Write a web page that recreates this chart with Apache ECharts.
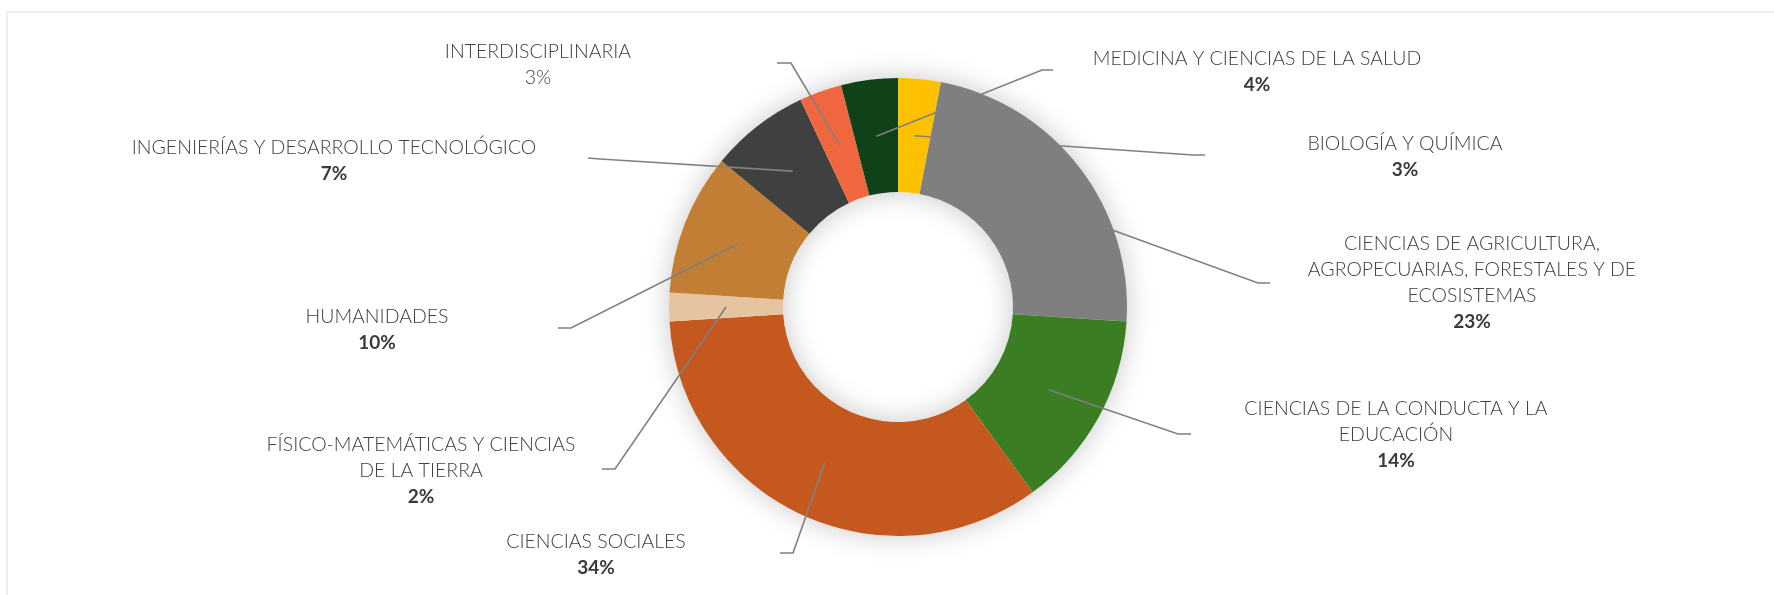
<!DOCTYPE html>
<html>
<head>
<meta charset="utf-8">
<script src="https://cdn.jsdelivr.net/npm/echarts@6/dist/echarts.min.js"></script>
<style>
  html, body { margin: 0; padding: 0; background: #fff; }
  #chart { width: 1774px; height: 595px; }
</style>
</head>
<body>
<div id="chart"></div>
<script>
// data, clockwise from 12 o'clock
const categories = [
  'BIOLOGÍA Y QUÍMICA',
  'CIENCIAS DE AGRICULTURA,\nAGROPECUARIAS, FORESTALES Y DE\nECOSISTEMAS',
  'CIENCIAS DE LA CONDUCTA Y LA\nEDUCACIÓN',
  'CIENCIAS SOCIALES',
  'FÍSICO-MATEMÁTICAS Y CIENCIAS\nDE LA TIERRA',
  'HUMANIDADES',
  'INGENIERÍAS Y DESARROLLO TECNOLÓGICO',
  'INTERDISCIPLINARIA',
  'MEDICINA Y CIENCIAS DE LA SALUD'
]
const values = [3, 23, 14, 34, 2, 10, 7, 3, 4]

const colors = ['#ffc000', '#7f7f7f', '#3b7d23', '#c4581f', '#e7c4a0', '#c17e34', '#404040', '#f0663f', '#0f4219']

// label block centre + leader elbow/end (pixels)
const labelSpots = [
  [1405, 157, 1193, 155, 1205, 155],
  [1472, 283, 1258, 283, 1270, 283],
  [1396, 435, 1178, 434, 1191, 434],
  [596, 555, 793, 553, 780, 553],
  [421, 471, 615, 469, 602, 469],
  [377, 330, 571, 328, 558, 328],
  [334, 161, 600, 159, 588, 158],
  [538, 65, 791, 63, 777, 63],
  [1257, 72, 1042, 70, 1053, 70]
]

const center = [898, 307]
const seriesData = categories.map((name, i) => ({ name: name, value: values[i] }))

let chart = echarts.init(document.getElementById('chart'))

const font = 'Lato, sans-serif'

let option = {
  backgroundColor: '#fff',
  animation: false,
  color: colors,
  graphic: [{
    type: 'rect',
    shape: { x: 7, y: 12, width: 1800, height: 700 },
    style: { fill: 'none', stroke: '#eeeeee', lineWidth: 2 },
    silent: true,
    z: -10
  }],
  series: [
    // soft shadow under the ring
    {
      type: 'pie',
      center: center,
      radius: [115, 229],
      silent: true,
      label: { show: false },
      labelLine: { show: false },
      itemStyle: {
        color: '#ffffff',
        shadowBlur: 28,
        shadowColor: 'rgba(0,0,0,0.22)'
      },
      data: [{ value: 1 }],
      z: 1
    },
    {
      type: 'pie',
      center: center,
      radius: [115, 229],
      startAngle: 90,
      silent: true,
      label: { show: false },
      labelLine: { show: false },
      data: seriesData,
      z: 2
    },
    // invisible pie: leader lines start at mid-ring
    {
      type: 'pie',
      center: center,
      radius: [0, 172],
      startAngle: 90,
      silent: true,
      avoidLabelOverlap: false,
      itemStyle: { color: 'rgba(0,0,0,0)' },
      label: {
        show: true,
        position: 'outside',
        fontFamily: font,
        formatter: function (p) {
          let lines = p.name.split('\n').map(l => '{n|' + l + '}')
          let pctStyle = p.name === 'INTERDISCIPLINARIA' ? 'n' : 'pb'
          lines.push('{' + pctStyle + '|' + p.value + '%}')
          return lines.join('\n')
        },
        rich: {
          n: { fontFamily: font, fontSize: 19.5, fontWeight: 300, color: '#404040', lineHeight: 26, align: 'center' },
          pb: { fontFamily: font, fontSize: 19, fontWeight: 'bold', color: '#3a3a3a', lineHeight: 26, align: 'center' }
        }
      },
      labelLine: {
        show: true,
        length: 20,
        length2: 10,
        lineStyle: { color: '#808080', width: 1.6 }
      },
      labelLayout: function (params) {
        let s = labelSpots[params.dataIndex]
        let pts = params.labelLinePoints
        return {
          x: s[0],
          y: s[1],
          align: 'center',
          verticalAlign: 'middle',
          labelLinePoints: [pts[0], [s[2], s[3]], [s[4], s[5]]]
        }
      },
      data: seriesData,
      z: 3
    }
  ]
}
chart.setOption(option, true)
</script>
</body>
</html>
